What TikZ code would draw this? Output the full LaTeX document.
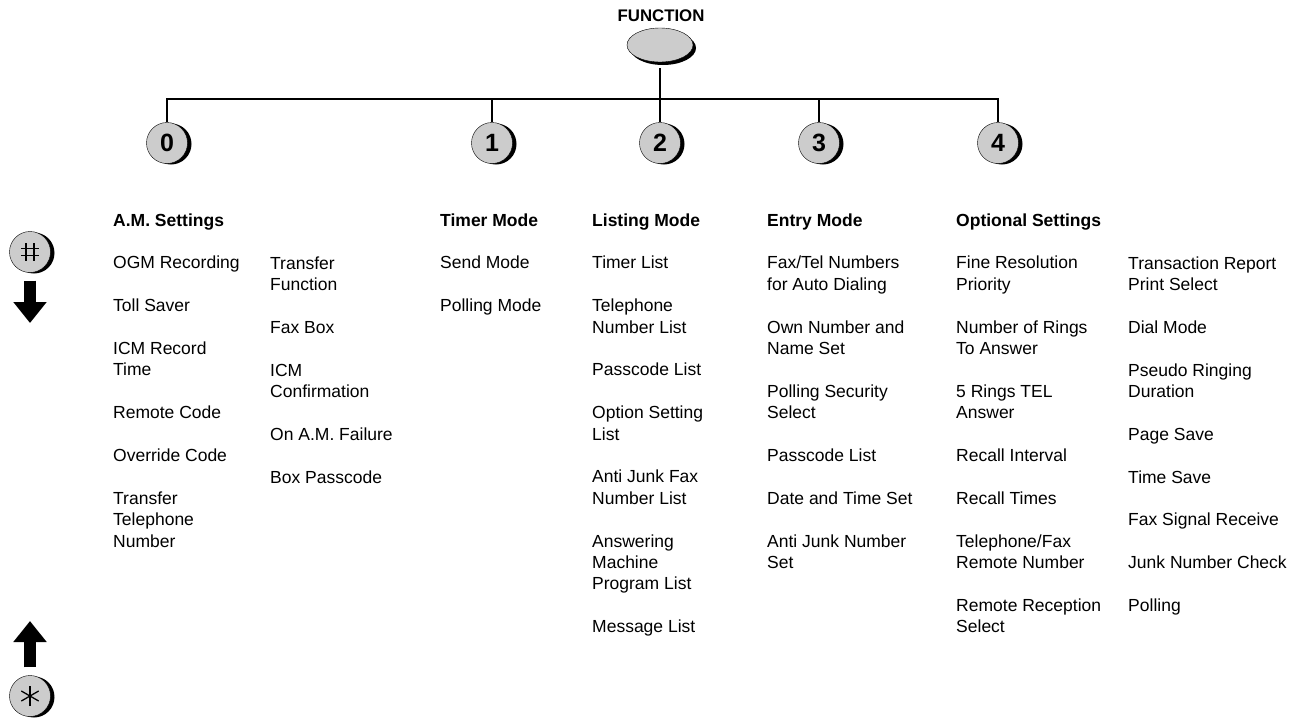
\documentclass[tikz,border=0pt]{standalone}
\usepackage{fontspec}
\setmainfont{Liberation Sans}
\usepackage{tikz}
\usetikzlibrary{arrows.meta,positioning,shapes.geometric,shadows}

\newcommand{\gap}{\\[21.4pt]}

\begin{document}
\begin{tikzpicture}[x=1pt, y=-1pt,
        col/.style={anchor=north west, inner sep=0pt, align=left, font=\fontsize{17.5}{21.4}\selectfont},
        key/.style={circle, draw, thin, fill=gray!40, minimum size=41pt, inner sep=0pt,
            font=\fontsize{25}{25}\selectfont\bfseries,
            general shadow={fill=black, shadow xshift=4pt, shadow yshift=-1pt}},
        link/.style={line width=2.2pt},
        bigarrow/.style={line width=12pt, -{Triangle[width=32pt,length=21pt]}},
        >={Latex}]

        \useasboundingbox (0,0) rectangle (1306,718);

        % Function key
        \node[font=\fontsize{16.8}{16.8}\selectfont\bfseries] (funclabel) at (661,16) {FUNCTION};
        \node[ellipse, draw, fill=gray!40, minimum width=66pt, minimum height=34pt,
            general shadow={fill=black, shadow xshift=3pt, shadow yshift=-3pt}] (fn) at (660,45) {};

        % Number keys
        \node[key] (k0) at (167,143) {0};
        \node[key] (k1) at (492,143) {1};
        \node[key] (k2) at (660,143) {2};
        \node[key] (k3) at (819,143) {3};
        \node[key] (k4) at (998,143) {4};

        % Tree
        \coordinate (bar) at (0,99);
        \draw[link] ([yshift=-6pt]fn.south) -- (k2.north);
        \draw[link] (k0.north) |- (bar -| k4.north) -- (k4.north);
        \draw[link] (k1.north) -- (k1.north |- bar);
        \draw[link] (k3.north) -- (k3.north |- bar);

        % Scroll keys
        \node[key] (hash) at (30,252) {};
        \begin{scope}[shift={(hash.center)}, line width=1.3pt]
            \draw (-4,-9) -- (-4,9) (4,-9) -- (4,9);
            \draw (-9,-3.5) -- (9,-3.5) (-9,3.5) -- (9,3.5);
        \end{scope}
        \coordinate (downtip) at (30,323);
        \draw[bigarrow] ([yshift=-8pt]hash.south) -- (downtip);

        \node[key] (star) at (30,696) {};
        \begin{scope}[shift={(star.center)}, line width=1.3pt]
            \foreach \a in {90,30,150}
                \draw (\a:10) -- (\a+180:10);
        \end{scope}
        \coordinate (uptip) at (30,621);
        \draw[bigarrow] ([yshift=8pt]star.north) -- (uptip);

        % Menus
        \node[col] (amcol) at (113,211) {\strut\textbf{A.M. Settings}\gap OGM Recording\gap Toll Saver\gap ICM Record\\Time\gap Remote Code\gap Override Code\gap Transfer\\Telephone\\Number};
        \node[col] (amcolb) at (270,254) {\strut Transfer\\Function\gap Fax Box\gap ICM\\Confirmation\gap On A.M. Failure\gap Box Passcode};
        \node[col] (timercol) at (440,211) {\strut\textbf{Timer Mode}\gap Send Mode\gap Polling Mode};
        \node[col] (listcol) at (592,211) {\strut\textbf{Listing Mode}\gap Timer List\gap Telephone\\Number List\gap Passcode List\gap Option Setting\\List\gap Anti Junk Fax\\Number List\gap Answering\\Machine\\Program List\gap Message List};
        \node[col] (entrycol) at (767,211) {\strut\textbf{Entry Mode}\gap Fax/Tel Numbers\\for Auto Dialing\gap Own Number and\\Name Set\gap Polling Security\\Select\gap Passcode List\gap Date and Time Set\gap Anti Junk Number\\Set};
        \node[col] (optcol) at (956,211) {\strut\textbf{Optional Settings}\gap Fine Resolution\\Priority\gap Number of Rings\\To Answer\gap 5 Rings TEL\\Answer\gap Recall Interval\gap Recall Times\gap Telephone/Fax\\Remote Number\gap Remote Reception\\Select};
        \node[col] (optcolb) at (1128,254) {\strut Transaction Report\\Print Select\gap Dial Mode\gap Pseudo Ringing\\Duration\gap Page Save\gap Time Save\gap Fax Signal Receive\gap Junk Number Check\gap Polling};

    \end{tikzpicture}
\end{document}
